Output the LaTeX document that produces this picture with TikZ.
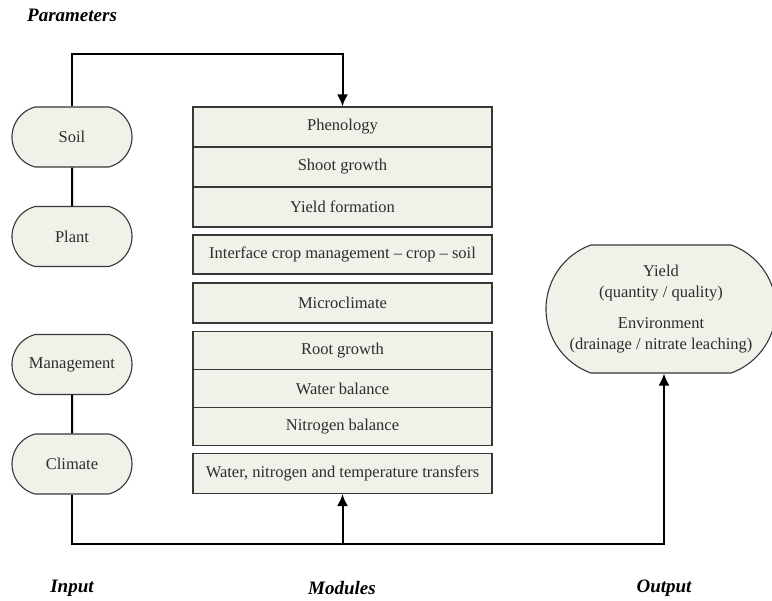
\documentclass[tikz,border=0pt]{standalone}
\usepackage{fontspec}
\setmainfont{Liberation Serif}
\usetikzlibrary{shapes,arrows.meta}
\usetikzlibrary{positioning}
\definecolor{boxfill}{RGB}{240,241,233}
\definecolor{boxline}{RGB}{55,55,55}
\definecolor{boxtext}{RGB}{45,45,45}
\tikzstyle{module} = [rectangle, draw=boxline, line width=1.1pt, fill=boxfill, text=boxtext, minimum width=299pt, minimum height=40pt, font=\fontsize{16.5}{19}\selectfont]
\tikzstyle{param} = [rounded rectangle, rounded rectangle arc length=150, draw=boxline, line width=1.1pt, fill=boxfill, text=boxtext, inner xsep=-10pt, minimum width=100pt, minimum height=60pt, font=\fontsize{16.5}{19}\selectfont]
\tikzstyle{result} = [param, rounded rectangle arc length=140, inner xsep=-20pt, minimum width=190pt, minimum height=128pt, align=center, font=\fontsize{16.5}{21.5}\selectfont]
\tikzstyle{heading} = [inner sep=0pt, font=\fontsize{19}{22}\selectfont\bfseries\itshape]
\tikzstyle{line} = [draw, line width=2pt, -{Latex[length=12pt,width=11pt]}]
\tikzstyle{link} = [draw, line width=2pt]

\begin{document}
\begin{tikzpicture}[x=1pt, y=1pt, node distance=40pt]
\useasboundingbox (0,0) rectangle (772,-601);
						% Place nodes
						\node [heading, anchor=west] (parameters) at (27,-15) {Parameters};
						\node [param] (soil) at (72,-137) {Soil};
						\node [param, below of=soil, node distance=99.5pt] (plant) {Plant};
						\node [param] (management) at (72,-364.5) {Management};
						\node [param, below of=management, node distance=99.5pt] (climate) {Climate};
						
						\node [module] (phenology) at (342.5,-127) {Phenology};
						\node [module, below of=phenology] (shoot) {Shoot growth};
						\node [module, below of=shoot] (yieldform) {Yield formation};
						\node [module, minimum height=39pt, below of=yieldform, node distance=47.5pt] (interface) {Interface crop management -- crop -- soil};
						\node [module, below of=interface, node distance=48.5pt] (microclimate) {Microclimate};
						\node [module, minimum height=38pt, below of=microclimate, node distance=47.5pt] (root) {Root growth};
						\node [module, minimum height=38pt, below of=root, node distance=38pt] (water) {Water balance};
						\node [module, minimum height=38pt, below of=water, node distance=38pt] (nitrogen) {Nitrogen balance};
						\node [module, below of=nitrogen, node distance=47pt] (transfers) {Water, nitrogen and temperature transfers};
						
						\node [result] (yield) at (661,-309) {Yield\\(quantity / quality)\\[9pt]Environment\\(drainage / nitrate leaching)};
						
						\node [heading] (input) at (72,-588) {Input};
						\node [heading] (modules) at (342,-588) {Modules};
						\node [heading] (output) at (664,-588) {Output};
						
						% Draw edges
						\path [line] (soil.north) -- ++(0,52) -| (phenology.north);
						\path [link] (soil) -- (plant);
						\path [link] (management) -- (climate);
						\path [line] (climate.south) -- ++(0,-49) coordinate (bus) -| ([xshift=3pt]yield.south);
						\path [line] (bus -| transfers.south) -- (transfers.south);
						
					\end{tikzpicture}
\end{document}
